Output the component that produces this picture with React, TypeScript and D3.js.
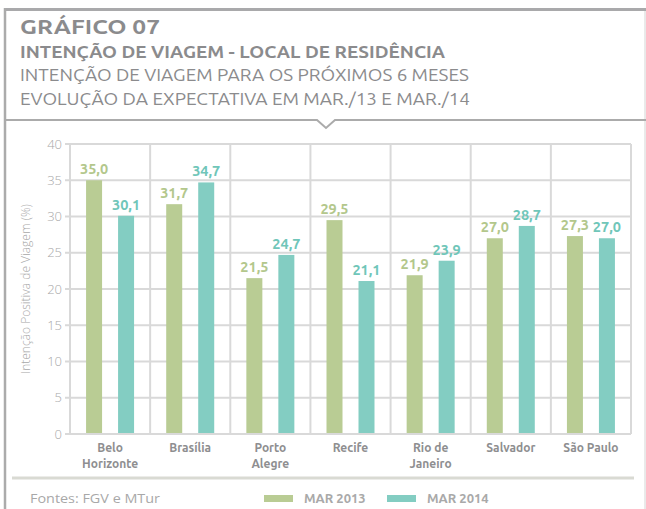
import React from "react";
import * as d3 from "d3";

const categories = [
  ["Belo", "Horizonte"],
  ["Brasília"],
  ["Porto", "Alegre"],
  ["Recife"],
  ["Rio de", "Janeiro"],
  ["Salvador"],
  ["São Paulo"],
];
const series2013 = [35.0, 31.7, 21.5, 29.5, 21.9, 27.0, 27.3];
const series2014 = [30.1, 34.7, 24.7, 21.1, 23.9, 28.7, 27.0];
const seriesNames = ["MAR 2013", "MAR 2014"];
const yTicks = [0, 5, 10, 15, 20, 25, 30, 35, 40];
const titleLines = [
  "GRÁFICO 07",
  "INTENÇÃO DE VIAGEM - LOCAL DE RESIDÊNCIA",
  "INTENÇÃO DE VIAGEM PARA OS PRÓXIMOS 6 MESES",
  "EVOLUÇÃO DA EXPECTATIVA EM MAR./13 E MAR./14",
];
const yTitle = "Intenção Positiva de Viagem (%)";
const source = "Fontes: FGV e MTur";

const W = 646;
const H = 509;
const FONT = "Ubuntu, 'Open Sans', sans-serif";
const GREEN = "#b9cc94";
const TEAL = "#83cdc2";
const GREEN_TXT = "#b3c78c";
const TEAL_TXT = "#70c6b9";
const GRID = "#d9d9d9";

export default function App() {
  const plot = { left: 70, right: 631, top: 144, bottom: 434 };
  const x = d3
    .scaleBand<number>()
    .domain(d3.range(categories.length))
    .range([plot.left, plot.right])
    .paddingInner(0)
    .paddingOuter(0);
  const y = d3.scaleLinear().domain([0, 40]).range([plot.bottom, plot.top]);
  const bw = 16;
  const off = 16;
  const fmt = (v: number) => v.toFixed(1).replace(".", ",");

  const headerY = 120;
  const cx = 326;

  return (
    <svg
      width={W}
      height={H}
      style={{ position: "fixed", left: 0, top: 0, background: "#fff" }}
      fontFamily={FONT}
    >
      <rect x={0} y={0} width={W} height={H} fill="#fff" />
      {/* frame */}
      <line x1={4} x2={646} y1={9.5} y2={9.5} stroke="#a9a9ab" strokeWidth={3} />
      <line x1={5} x2={5} y1={8} y2={H} stroke="#ababab" strokeWidth={2.5} />
      <line x1={645} x2={645} y1={11} y2={H} stroke="#d4d4d4" strokeWidth={1} />
      <path
        d={`M5,${headerY} H${cx - 9} L${cx},${headerY + 8} L${cx + 9},${headerY} H646`}
        fill="none"
        stroke="#ababab"
        strokeWidth={2}
      />
      {/* titles */}
      <text x={20} y={33.5} fontSize={20} fontWeight={700} fill="#8b8b8d" textLength={140} lengthAdjust="spacingAndGlyphs">
        {titleLines[0]}
      </text>
      <text x={20} y={57.5} fontSize={17} fontWeight={700} fill="#8b8b8d" textLength={425} lengthAdjust="spacingAndGlyphs">
        {titleLines[1]}
      </text>
      <text x={20} y={81} fontSize={17} fontWeight={400} fill="#8b8b8d" textLength={449} lengthAdjust="spacingAndGlyphs">
        {titleLines[2]}
      </text>
      <text x={20} y={104.5} fontSize={17} fontWeight={400} fill="#8b8b8d" textLength={450} lengthAdjust="spacingAndGlyphs">
        {titleLines[3]}
      </text>

      {/* horizontal grid */}
      {yTicks.map((t) => (
        <g key={t}>
          <line x1={65} x2={plot.right} y1={y(t)} y2={y(t)} stroke={GRID} strokeWidth={2} />
          <text
            x={62}
            y={y(t) + 4.5}
            textAnchor="end"
            fontSize={13}
            fontFamily="'Open Sans', sans-serif"
            fontWeight={300}
            fill="#a8a8a8"
          >
            {t}
          </text>
        </g>
      ))}
      {/* vertical dividers */}
      {d3.range(categories.length + 1).map((i) => {
        const xx = i < categories.length ? (x(i) as number) : plot.right;
        return (
          <line key={i} x1={xx} x2={xx} y1={plot.top} y2={plot.bottom} stroke={GRID} strokeWidth={2} />
        );
      })}
      {/* bars */}
      {categories.map((c, i) => {
        const center = (x(i) as number) + x.bandwidth() / 2;
        const v1 = series2013[i];
        const v2 = series2014[i];
        return (
          <g key={i}>
            <rect x={center - off - bw / 2} y={y(v1)} width={bw} height={y(0) - y(v1) - 1} fill={GREEN} />
            <rect x={center + off - bw / 2} y={y(v2)} width={bw} height={y(0) - y(v2) - 1} fill={TEAL} />
            <text x={center - off} y={y(v1) - 6} textAnchor="middle" fontSize={14.5} fontWeight={700} fill={GREEN_TXT}>
              {fmt(v1)}
            </text>
            <text x={center + off} y={y(v2) - 6} textAnchor="middle" fontSize={14.5} fontWeight={700} fill={TEAL_TXT}>
              {fmt(v2)}
            </text>
            {c.map((line, j) => (
              <text
                key={j}
                x={center}
                y={452 + j * 16}
                textAnchor="middle"
                fontSize={12}
                fontWeight={700}
                fill="#8e8e90"
              >
                {line}
              </text>
            ))}
          </g>
        );
      })}
      {/* y title */}
      <text
        transform={`translate(30,${(plot.top + plot.bottom) / 2}) rotate(-90)`}
        textAnchor="middle"
        fontSize={12}
        fontFamily="'Open Sans', sans-serif"
        fontWeight={300}
        fill="#a8a8a8"
      >
        {yTitle}
      </text>
      {/* bottom separator */}
      <line x1={12} x2={634} y1={478} y2={478} stroke="#d9dad3" strokeWidth={3} />
      {/* footer */}
      <text
        x={30}
        y={503}
        fontSize={13.5}
        fill="#a8a8a8"
        fontFamily="'Open Sans', sans-serif"
        fontWeight={400}
        textLength={130}
        lengthAdjust="spacingAndGlyphs"
      >
        {source}
      </text>
      {[GREEN, TEAL].map((col, i) => (
        <g key={i}>
          <rect x={264 + i * 123} y={495} width={29} height={7} fill={col} />
          <text x={304 + i * 123} y={503} fontSize={13} fontWeight={700} fill="#a9a9a9">
            {seriesNames[i]}
          </text>
        </g>
      ))}
    </svg>
  );
}
